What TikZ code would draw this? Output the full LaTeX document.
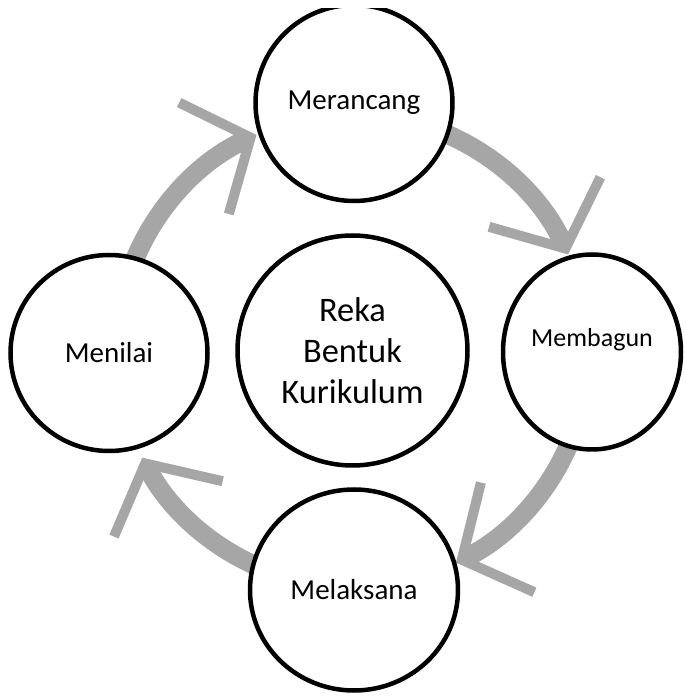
\documentclass[tikz,border=0pt]{standalone}
\usepackage{fontspec}
\setmainfont{Carlito}
\usetikzlibrary{arrows.meta,shapes.geometric,backgrounds}
\definecolor{ringgray}{RGB}{166,166,166}

\begin{document}
\begin{tikzpicture}[x = 1pt, y = 1pt,
        stage/.style = {ellipse, draw, line width = 4.5pt, fill = white, inner sep = 0pt, font = \fontsize{29}{35}\selectfont},
        turn/.style = {draw = ringgray, line width = 19pt, -{Straight Barb[length = 51pt, width = 122pt, line width' = 10pt, sharp]}}]
        \useasboundingbox (0,0) rectangle (686,697);
        \clip (0,0) rectangle (686,688);

        \node [stage, minimum width = 230pt, minimum height = 230pt, align = center, font = \fontsize{34.4}{41}\selectfont] (reka) at (352.5,346.5) {Reka\\Bentuk\\Kurikulum};
        \node [stage, minimum width = 197pt, minimum height = 196pt] (merancang) at (354,594) {Merancang};
        \node [stage, minimum width = 178pt, minimum height = 195pt, text depth = 29pt, font = \fontsize{26}{31}\selectfont] (membagun) at (592,345) {Membagun};
        \node [stage, minimum width = 208pt, minimum height = 201pt] (melaksana) at (354,107) {Melaksana};
        \node [stage, minimum width = 197pt, minimum height = 196pt] (menilai) at (109,344) {Menilai};

        \begin{scope}[on background layer]
        \draw [turn] ([shift = {(160:236pt)}]reka.center) arc [start angle = 160, end angle = 114, radius = 236pt];
        \draw [turn] ([shift = {(70:236pt)}]reka.center) arc [start angle = 70, end angle = 24, radius = 236pt];
        \draw [turn] ([shift = {(-20:236pt)}]reka.center) arc [start angle = -20, end angle = -64, radius = 236pt];
        \draw [turn] ([shift = {(250:236pt)}]reka.center) arc [start angle = 250, end angle = 207, radius = 236pt];
        \end{scope}
    \end{tikzpicture}
\end{document}
